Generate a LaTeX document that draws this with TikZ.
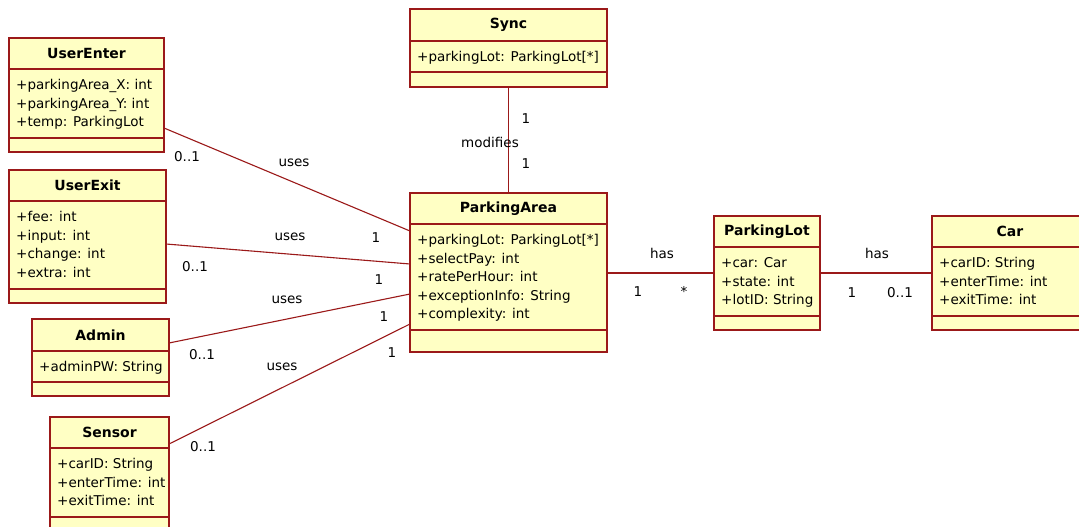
\documentclass[tikz,border=0pt]{standalone}
\usepackage{fontspec}
\setmainfont{DejaVu Sans}
\definecolor{umlred}{RGB}{155,25,25}
\definecolor{umlfill}{RGB}{255,255,196}
\tikzset{
 clsbox/.style={draw=umlred, fill=umlfill, line width=1.2pt, anchor=north west, inner sep=0pt, outer sep=0pt},
 clsline/.style={draw=umlred, line width=1.2pt},
 assoc/.style={draw=umlred, line width=1.1pt},
 ctitle/.style={font=\fontsize{14}{16}\selectfont\bfseries, inner sep=0pt},
 cattr/.style={font=\fontsize{13.5}{18.5}\selectfont, align=left, anchor=north west, inner sep=0pt},
 lbl/.style={font=\fontsize{13.5}{15}\selectfont, inner sep=0pt},
}
\newcommand\umlclass[9]{%
 \node[clsbox, minimum width=#4pt, minimum height=#5pt] (#1) at (#2,#3) {};
 \draw[clsline] ([yshift=-#6pt]#1.north west) -- ([yshift=-#6pt]#1.north east);
 \draw[clsline] ([yshift=-#7pt]#1.north west) -- ([yshift=-#7pt]#1.north east);
 \node[ctitle] (#1-t) at ([yshift={-#6pt/2}]#1.north) {#8};
 \node[cattr] (#1-a) at ([xshift=7pt,yshift={-#6pt-10.5pt}]#1.north west) {#9};
}
\begin{document}
\begin{tikzpicture}[x=1pt,y=-1pt]
\useasboundingbox (0,0) rectangle (1079,527);
\clip (0,0) rectangle (1079,527);
\fill[white] (0,0) rectangle (1079,527);

\umlclass{ue}{9}{38}{155}{114}{31}{100}{UserEnter}{+parkingArea\_X: int\\+parkingArea\_Y: int\\+temp: ParkingLot}
\umlclass{ux}{9}{170}{157}{133}{31}{119}{UserExit}{+fee: int\\+input: int\\+change: int\\+extra: int}
\umlclass{ad}{32}{319}{137}{77}{32}{63}{Admin}{+adminPW: String}
\umlclass{se}{50}{417}{119}{115}{31}{100}{Sensor}{+carID: String\\+enterTime: int\\+exitTime: int}
\umlclass{sy}{410}{9}{197}{78}{32}{63}{Sync}{+parkingLot: ParkingLot[*]}
\umlclass{pa}{410}{193}{197}{159}{31}{137}{ParkingArea}{+parkingLot: ParkingLot[*]\\+selectPay: int\\+ratePerHour: int\\+exceptionInfo: String\\+complexity: int}
\umlclass{pl}{714}{216}{106}{114}{31}{100}{ParkingLot}{+car: Car\\+state: int\\+lotID: String}
\umlclass{car}{932}{216}{156}{114}{31}{100}{Car}{+carID: String\\+enterTime: int\\+exitTime: int}

% connectors
\draw[assoc] ([yshift=-90pt]ue.north east) -- ([yshift=-38pt]pa.north west);
\draw[assoc] ([yshift=-74pt]ux.north east) -- ([yshift=-71pt]pa.north west);
\draw[assoc] ([yshift=-24pt]ad.north east) -- ([yshift=-101pt]pa.north west);
\draw[assoc] ([yshift=-27pt]se.north east) -- ([yshift=-131pt]pa.north west);
\draw[assoc] (sy.south) -- (pa.north);
\draw[assoc] ([yshift=-80pt]pa.north east) -- ([yshift=-57pt]pl.north west);
\draw[assoc] ([yshift=-57pt]pl.north east) -- ([yshift=-57pt]car.north west);

% labels
\node[lbl] (l1) at (526,119) {1};
\node[lbl] (l2) at (490,142) {modifies};
\node[lbl] (l3) at (526,164) {1};
\node[lbl] (l4) at (662,253) {has};
\node[lbl] (l5) at (638,292) {1};
\node[lbl] (l6) at (684,291) {*};
\node[lbl] (l7) at (877,253) {has};
\node[lbl] (l8) at (852,293) {1};
\node[lbl] (l9) at (900,293) {0..1};
\node[lbl] (l10) at (187,157) {0..1};
\node[lbl] (l11) at (294,163) {uses};
\node[lbl] (l12) at (376,238) {1};
\node[lbl] (l13) at (290,237) {uses};
\node[lbl] (l14) at (195,267) {0..1};
\node[lbl] (l15) at (379,280) {1};
\node[lbl] (l16) at (287,300) {uses};
\node[lbl] (l17) at (202,355) {0..1};
\node[lbl] (l18) at (384,317) {1};
\node[lbl] (l19) at (282,367) {uses};
\node[lbl] (l20) at (203,447) {0..1};
\node[lbl] (l21) at (392,353) {1};
\end{tikzpicture}
\end{document}
